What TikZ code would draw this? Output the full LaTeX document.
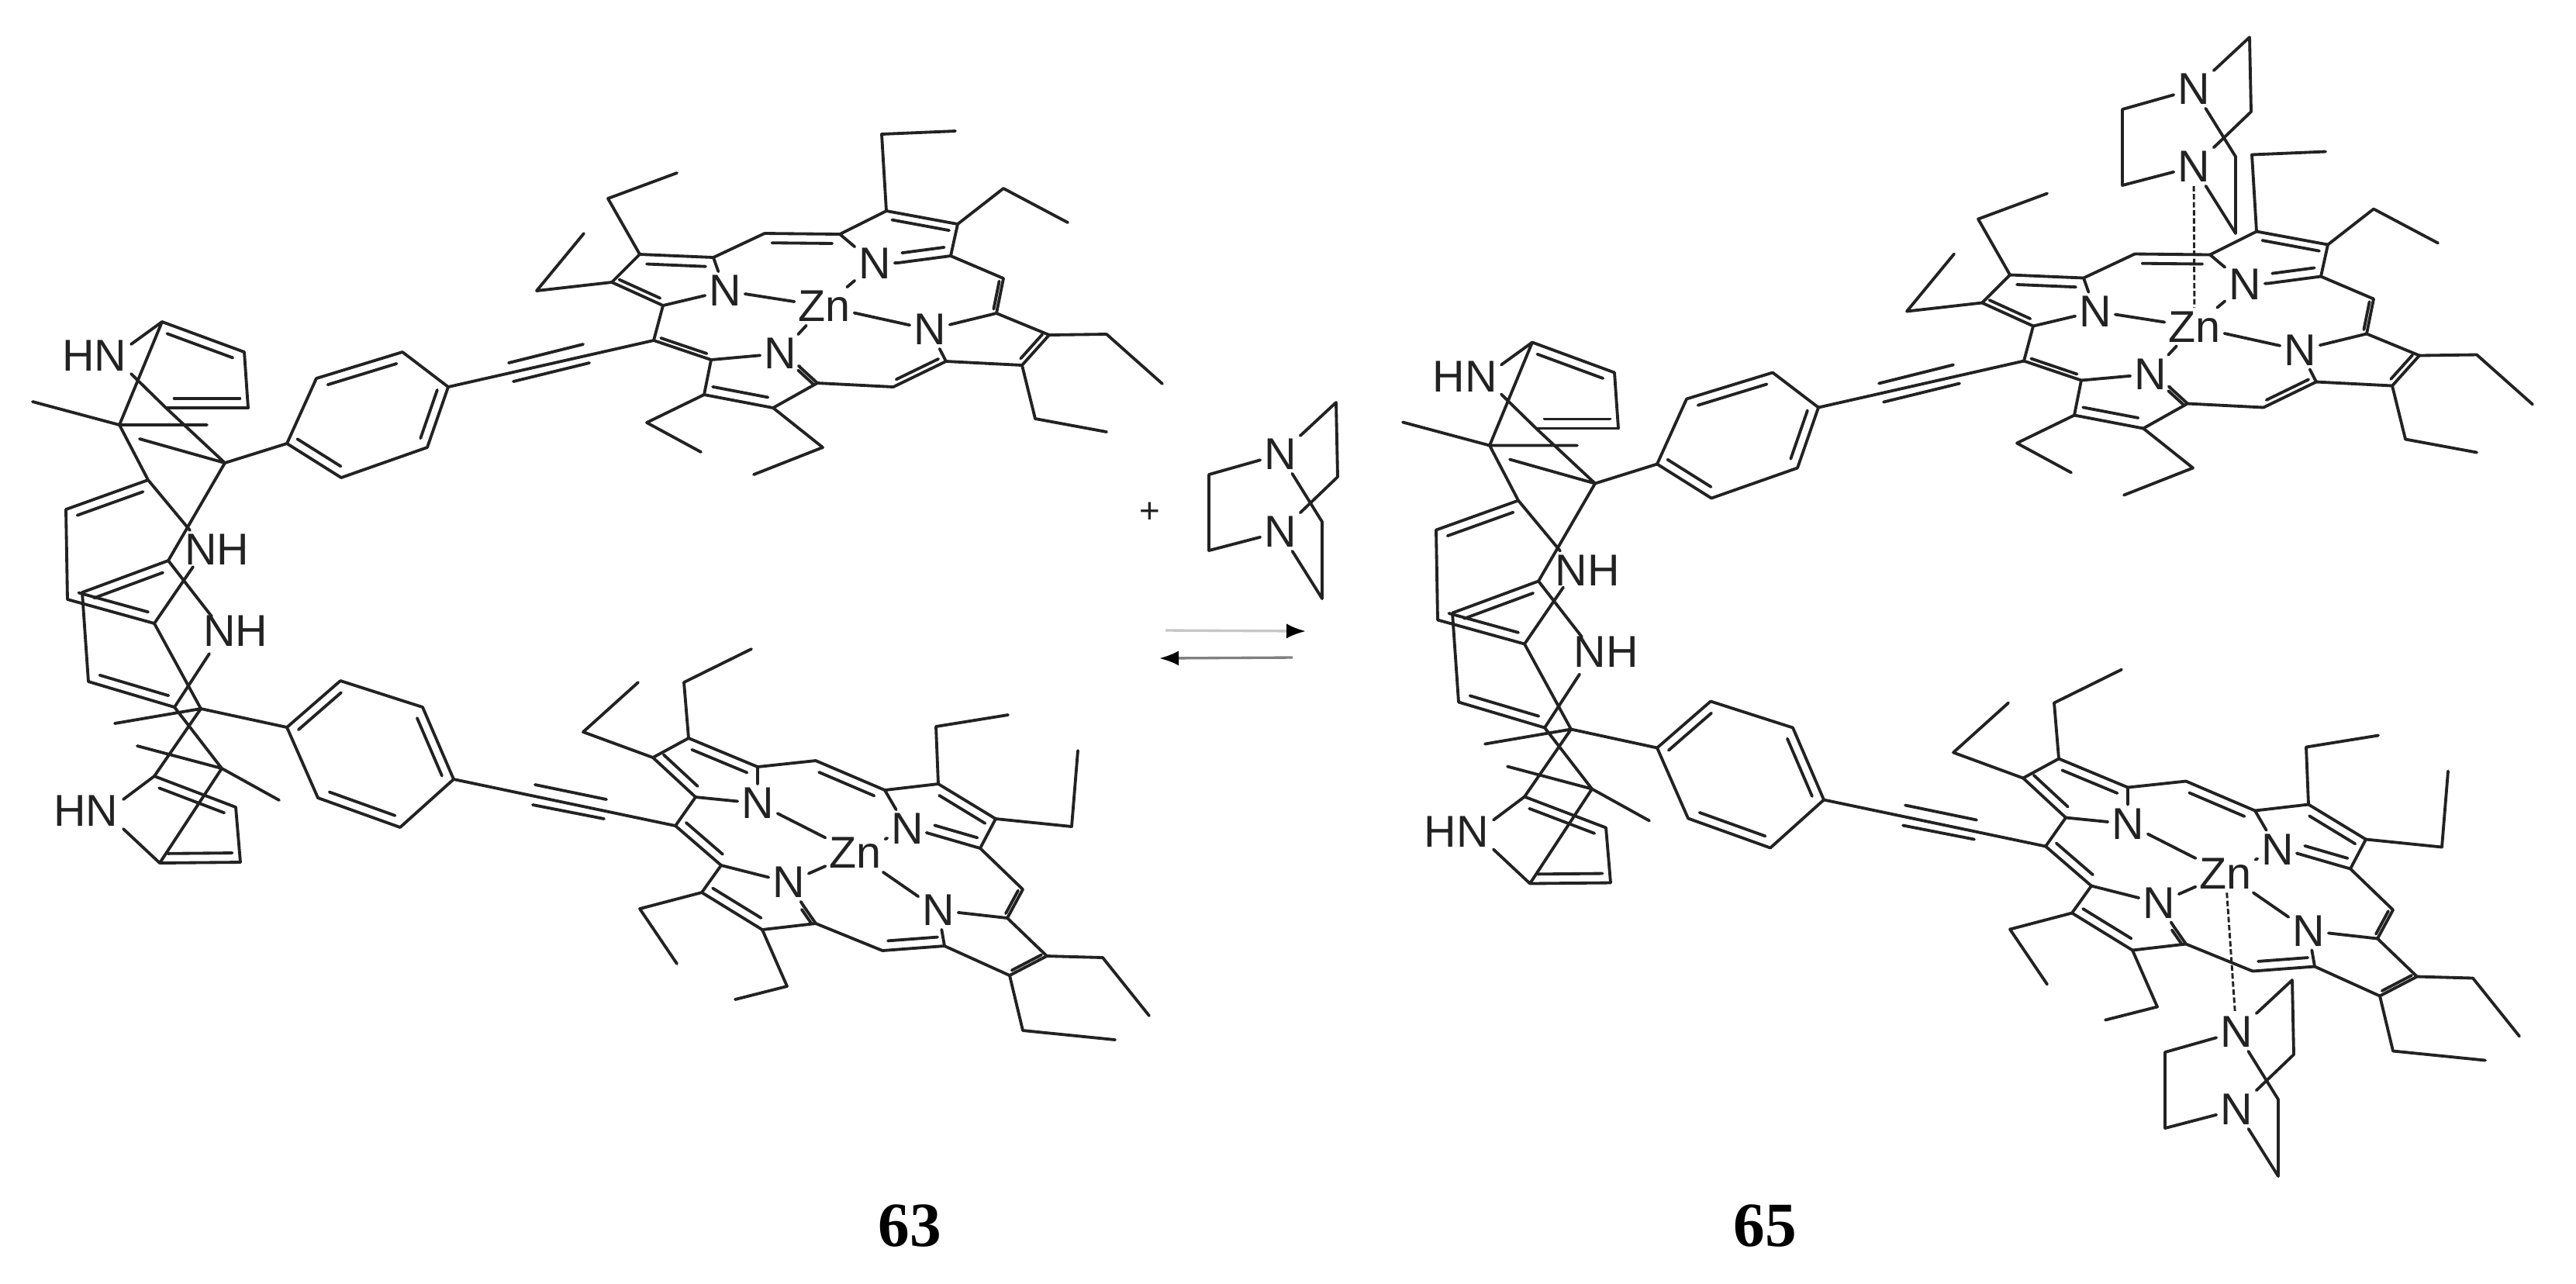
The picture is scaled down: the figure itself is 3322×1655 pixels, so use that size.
\documentclass[tikz,border=0pt]{standalone}
\usepackage{fontspec}
\setmainfont{Liberation Sans}
\newfontfamily\cpdfont{Liberation Serif}
\usetikzlibrary{calc,arrows.meta}
\definecolor{ink}{HTML}{222222}
\tikzset{
  bond/.style={draw=ink,line width=0.92pt,line cap=round,line join=round},
  atom/.style={inner sep=1pt,text=ink,font=\fontsize{13.8}{14}\selectfont},
  plussign/.style={inner sep=1pt,text=ink,font=\fontsize{11}{12}\selectfont},
  cpd/.style={inner sep=0pt,text=black,font=\cpdfont\bfseries\fontsize{19.5}{20}\selectfont},
  coord/.style={draw=ink,line width=0.7pt,dash pattern=on 1.7pt off 0.8pt},
  fwd/.style={draw=black!22,line width=0.8pt,-{Latex[black,length=6pt,width=4.6pt]}},
  bwd/.style={draw=black!50,line width=0.8pt,-{Latex[black,length=6pt,width=4.6pt]}}
}
% double bond: outer line a-b, inner line on the right of a->b as seen
\newcommand\dblb[3][2.9pt]{%
  \draw[bond] (#2)--(#3);
  \draw[bond] ($(#2)!.1!(#3)!#1!-90:(#3)$)--($(#3)!.1!(#2)!#1!90:(#2)$);}
\newcommand\Molecule{%
  % ---- upper dipyrromethane
  \node[atom] (hn1) at (122,459) {HN};
  \node[atom] (nh1) at (280,709) {NH};
  \node[atom] (nh2) at (304,814) {NH};
  \node[atom] (hn2) at (111,1046) {HN};
  \coordinate (hnA) at (169,444); \coordinate (hnD) at (169,482);
  \coordinate (nhH) at (245,684); \coordinate (nhK) at (249,731);
  \coordinate (nhL) at (273,795); \coordinate (nhO) at (270,843);
  \coordinate (hnR) at (159,1031); \coordinate (hnT) at (159,1069);
  \coordinate (A) at (209,415); \coordinate (B) at (315,454);
  \coordinate (C) at (320,526); \coordinate (Da) at (214,526);
  \coordinate (Fa) at (154,548); \coordinate (Ea) at (290,597);
  \coordinate (me1) at (42,518); \coordinate (me2) at (267,548); \coordinate (me3) at (180,566);
  \coordinate (Ha) at (191,619); \coordinate (Ia) at (85,657); \coordinate (Ja) at (87,773);
  \coordinate (Ka) at (199,804); \coordinate (La) at (217,723); \coordinate (Ma) at (106,764);
  \coordinate (Na) at (114,879); \coordinate (Oa) at (225,912); \coordinate (Pa) at (259,914);
  \coordinate (Qa) at (286,991); \coordinate (Ra) at (199,1001); \coordinate (Ua) at (304,1041);
  \coordinate (Va) at (310,1112); \coordinate (Ta) at (206,1113);
  \coordinate (me4) at (148,933); \coordinate (me5) at (177,962); \coordinate (me6) at (360,1032);
  \draw[bond] (A)--(hnA) (hnD)--(Da)--(Ea) (B)--(C) (A)--(Fa)--(me1) (Fa)--(me2)
    (Ea)--(me3) (Fa)--(Ha)--(nhH) (Ea)--(La) (nhK)--(Ka) (Ia)--(Ja) (La)--(nhL) (nhO)--(Oa)
    (Ma)--(Na) (Ka)--(Pa)--(Ra) (Oa)--(Qa)--(Ta) (Pa)--(me4) (me5)--(Qa)--(me6)
    (Ua)--(Va) (Ra)--(hnR) (hnT)--(Ta);
  \dblb{A}{B} \dblb{C}{Da} \dblb{Ia}{Ha} \dblb{Ka}{Ja} \dblb{Ma}{La} \dblb{Oa}{Na}
  \dblb{Ra}{Ua} \dblb{Va}{Ta}
  % ---- upper phenylene + alkyne
  \coordinate (G) at (370,572); \coordinate (b1) at (408,488); \coordinate (b2) at (519,454);
  \coordinate (b3) at (578,499); \coordinate (b4) at (551,577); \coordinate (b5) at (440,616);
  \draw[bond] (Ea)--(G)--(b1) (b2)--(b3) (b4)--(b5);
  \dblb{b1}{b2} \dblb{b3}{b4} \dblb{b5}{G}
  \coordinate (t1) at (656,468); \coordinate (t2) at (752,444);
  \coordinate (t3) at (662,492); \coordinate (t4) at (760,468);
  % ---- upper porphyrin
  \node[atom] (tN1) at (935,375) {N};
  \node[atom] (tN2) at (1128,340) {N};
  \node[atom] (tN3) at (1199,425) {N};
  \node[atom] (tN4) at (1006,456) {N};
  \node[atom] (tZn) at (1063,395) {Zn};
  \coordinate (m1) at (843,439); \coordinate (a) at (855,394); \coordinate (bb) at (789,364);
  \coordinate (c) at (825,328); \coordinate (d) at (920,332); \coordinate (m2) at (986,301);
  \coordinate (e) at (1083,302); \coordinate (f) at (1143,272); \coordinate (g) at (1235,289);
  \coordinate (h) at (1226,330); \coordinate (m3) at (1294,359); \coordinate (i) at (1285,404);
  \coordinate (j) at (1353,432); \coordinate (k) at (1318,471); \coordinate (l) at (1220,466);
  \coordinate (m4) at (1152,499); \coordinate (p) at (1054,494); \coordinate (q) at (997,526);
  \coordinate (r) at (908,509); \coordinate (s) at (917,464);
  \coordinate (hN) at (1158,339); \coordinate (pN) at (1030,472);
  \draw[bond] (b3)--(m1) (t1)--(t2) (t3)--(t4);
  \draw[bond] (m1)--(a) (bb)--(c) (d)--(m2) (e)--(f) (g)--(h) (h)--(m3) (i)--(j) (k)--(l) (m4)--(p)--(q)
    (r)--(s) (a)--(tN1) (d)--(tN1) (e)--(tN2) (hN)--(tN2) (i)--(tN3) (l)--(tN3) (s)--(tN4) (pN)--(tN4)
    (tN1)--(tZn) (tN2)--(tZn) (tN3)--(tZn) (tN4)--(tZn);
  \dblb[1.7pt]{a}{bb} \dblb{c}{d} \dblb{m2}{e} \dblb[2.4pt]{f}{g} \dblb{h}{hN}
  \dblb[1.1pt]{m3}{i} \dblb[1.7pt]{j}{k} \dblb[1.7pt]{l}{m4} \dblb{q}{r} \dblb[1.4pt]{s}{m1} \dblb[1.1pt]{pN}{p}
  \coordinate (c1) at (784,256); \coordinate (c2) at (873,223);
  \coordinate (b6) at (692,375); \coordinate (b7) at (753,301);
  \coordinate (f1) at (1137,173); \coordinate (f2) at (1232,169);
  \coordinate (g1) at (1294,243); \coordinate (g2) at (1377,287);
  \coordinate (j1) at (1427,431); \coordinate (j2) at (1499,495);
  \coordinate (k1) at (1335,540); \coordinate (k2) at (1427,557);
  \coordinate (r1) at (834,545); \coordinate (r2) at (904,583);
  \coordinate (q1) at (1061,577); \coordinate (q2) at (972,612);
  \draw[bond] (c)--(c1)--(c2) (bb)--(b6)--(b7) (f)--(f1)--(f2) (g)--(g1)--(g2)
    (j)--(j1)--(j2) (k)--(k1)--(k2) (r)--(r1)--(r2) (q)--(q1)--(q2);
  % ---- lower phenylene + alkyne
  \coordinate (S) at (370,938); \coordinate (d1) at (439,878); \coordinate (d2) at (545,912);
  \coordinate (d3) at (585,1005); \coordinate (d4) at (516,1067); \coordinate (d5) at (410,1029);
  \draw[bond] (Pa)--(S) (d1)--(d2) (d3)--(d4) (d5)--(S);
  \dblb{S}{d1} \dblb{d2}{d3} \dblb{d4}{d5}
  \coordinate (u1) at (690,1012); \coordinate (u2) at (782,1031);
  \coordinate (u3) at (687,1038); \coordinate (u4) at (779,1056);
  % ---- lower porphyrin
  \node[atom] (bN1) at (977,1036) {N};
  \node[atom] (bN2) at (1170,1069) {N};
  \node[atom] (bN3) at (1210,1174) {N};
  \node[atom] (bN4) at (1017,1138) {N};
  \node[atom] (bZn) at (1103,1100) {Zn};
  \coordinate (M1) at (871,1065); \coordinate (AA) at (897,1028); \coordinate (BB) at (842,977);
  \coordinate (CC) at (888,952); \coordinate (DD) at (977,989); \coordinate (M2) at (1052,981);
  \coordinate (EE) at (1141,1019); \coordinate (FF) at (1210,1011); \coordinate (GG) at (1284,1056);
  \coordinate (HH) at (1264,1094); \coordinate (M3) at (1319,1147); \coordinate (II) at (1299,1184);
  \coordinate (JJ) at (1350,1233); \coordinate (KK) at (1302,1258); \coordinate (LL) at (1218,1220);
  \coordinate (M4) at (1138,1226); \coordinate (PP) at (1052,1191); \coordinate (QQ) at (983,1199);
  \coordinate (RR) at (905,1151); \coordinate (SS) at (930,1116);
  \coordinate (HN) at (1195,1074); \coordinate (PN) at (1036,1168);
  \draw[bond] (d3)--(M1) (u1)--(u2) (u3)--(u4);
  \draw[bond] (M1)--(AA) (BB)--(CC) (DD)--(M2) (EE)--(FF) (GG)--(HH)--(M3) (II)--(JJ) (KK)--(LL)
    (M4)--(PP)--(QQ) (RR)--(SS) (AA)--(bN1) (DD)--(bN1) (EE)--(bN2) (HN)--(bN2) (II)--(bN3) (LL)--(bN3)
    (SS)--(bN4) (PN)--(bN4) (bN1)--(bZn) (bN2)--(bZn) (bN3)--(bZn) (bN4)--(bZn);
  \dblb{AA}{BB} \dblb{CC}{DD} \dblb{M2}{EE} \dblb{FF}{GG} \dblb{HH}{HN}
  \dblb[1.1pt]{M3}{II} \dblb[1.1pt]{JJ}{KK} \dblb{LL}{M4} \dblb{QQ}{RR} \dblb{SS}{M1} \dblb[1.1pt]{PN}{PP}
  \coordinate (C1) at (882,880); \coordinate (C2) at (969,837);
  \coordinate (B1) at (752,944); \coordinate (B2) at (823,880);
  \coordinate (F1) at (1207,937); \coordinate (F2) at (1300,922);
  \coordinate (G1) at (1382,1066); \coordinate (G2) at (1390,968);
  \coordinate (J1) at (1422,1235); \coordinate (J2) at (1482,1310);
  \coordinate (K1) at (1319,1329); \coordinate (K2) at (1438,1341);
  \coordinate (R1) at (825,1172); \coordinate (R2) at (873,1243);
  \coordinate (Q1) at (1015,1272); \coordinate (Q2) at (948,1289);
  \draw[bond] (CC)--(C1)--(C2) (BB)--(B1)--(B2) (FF)--(F1)--(F2) (GG)--(G1)--(G2)
    (JJ)--(J1)--(J2) (KK)--(K1)--(K2) (RR)--(R1)--(R2) (QQ)--(Q1)--(Q2);
}
\newcommand\Dabco{%
  \node[atom] (dN1) at (1651,586) {N};
  \node[atom] (dN2) at (1651,686) {N};
  \coordinate (da) at (1559,612); \coordinate (db) at (1559,710);
  \coordinate (dc) at (1723,519); \coordinate (dd) at (1725,615);
  \coordinate (de) at (1705,673); \coordinate (df) at (1705,772);
  \draw[bond] (dN1)--(da)--(db)--(dN2) (dN1)--(dc)--(dd)--(dN2) (dN1)--(de)--(df)--(dN2);
}
\begin{document}
\begin{tikzpicture}[x=0.24pt,y=-0.24pt]
\useasboundingbox (0,0) rectangle (3322,1655);
\fill[white] (0,0) rectangle (3322,1655);
\Molecule
\Dabco
\node[plussign] (plus) at (1483,661) {+};
\coordinate (f1s) at (1503,813); \coordinate (f1e) at (1684,814);
\coordinate (f2s) at (1667,848); \coordinate (f2e) at (1495,849);
\draw[fwd] (f1s)--(f1e);
\draw[bwd] (f2s)--(f2e);
\begin{scope}[shift={(1767,26.5)}]
\Molecule
\end{scope}
\begin{scope}[shift={(1178,-471)}]
\Dabco
\end{scope}
\draw[coord] (dN2)--(tZn);
\begin{scope}[shift={(1233,745)}]
\Dabco
\end{scope}
\draw[coord] (bZn)--(dN1);
\node[cpd] (n63) at (1173,1581) {63};
\node[cpd] (n65) at (2276,1581) {65};
\end{tikzpicture}
\end{document}
